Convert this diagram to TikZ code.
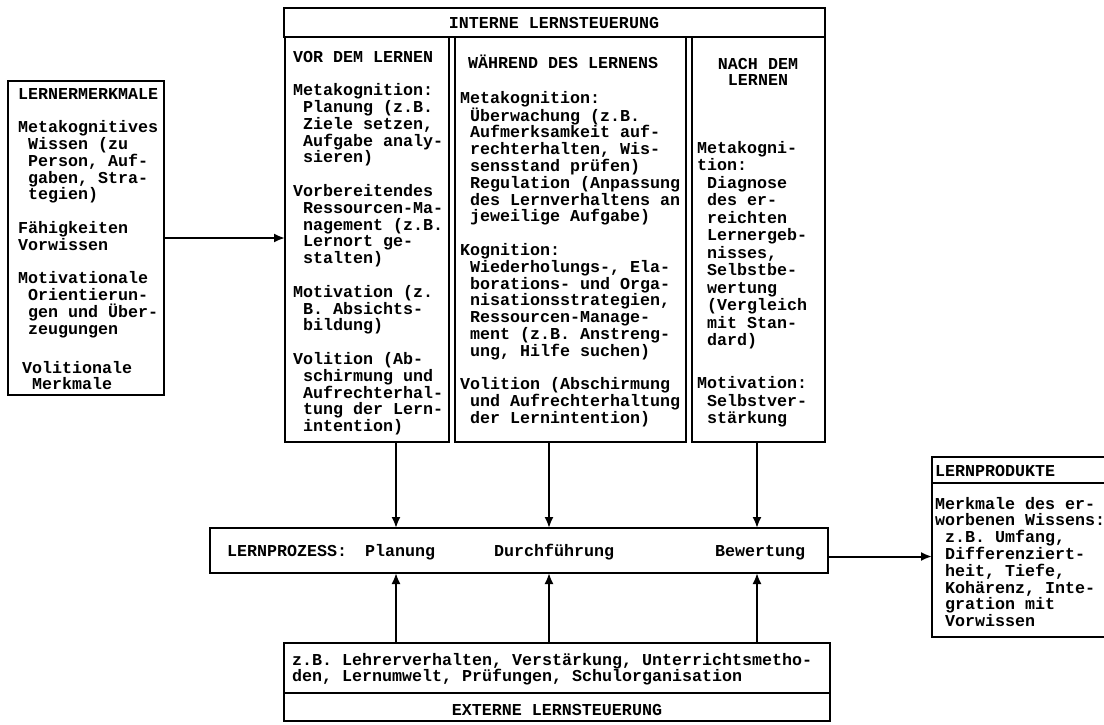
\documentclass[tikz,border=0pt]{standalone}
\usepackage{fontspec}
\setmonofont{Liberation Mono}
\usetikzlibrary{arrows.meta}
% one character of indentation in the typewriter text
\newcommand\ind{\hspace*{10pt}}
% fixed height of the first line, so that north anchors are predictable
\newcommand\fl{\rule{0pt}{15pt}}

\begin{document}
\begin{tikzpicture}[x=1pt,y=-1pt,
  frame/.style={draw=black, line width=2pt, inner sep=0pt, outer sep=0pt},
  tw/.style={font=\ttfamily\bfseries\fontsize{16.67pt}{16.8pt}\selectfont},
  txt/.style={tw, inner sep=0pt, outer sep=0pt, align=left, anchor=north west},
  lab/.style={tw, inner sep=0pt, outer sep=0pt, anchor=base west},
  arr/.style={line width=2pt, -{Latex[length=11pt,width=9pt]}},
]
\useasboundingbox (0,0) rectangle (1104,724);
\fill[white] (0,0) rectangle (1104,724);

% ---------- boxes ----------
\node[frame, minimum width=156pt, minimum height=314pt] (lern) at (86,238) {};
\node[frame, minimum width=541pt, minimum height=29pt] (intern) at (554.5,22.5) {};
\node[frame, minimum width=164pt, minimum height=405pt] (vor) at (367,239.5) {};
\node[frame, minimum width=231pt, minimum height=405pt] (waehrend) at (570.5,239.5) {};
\node[frame, minimum width=133pt, minimum height=405pt] (nach) at (758.5,239.5) {};
\node[frame, minimum width=618pt, minimum height=45pt] (prozess) at (519,550.5) {};
\node[frame, minimum width=546pt, minimum height=78pt] (extern) at (557,682) {};
\node[frame, minimum width=180pt, minimum height=180pt] (produkte) at (1022,547) {};

% separators inside the boxes
\draw[line width=2pt] (extern.west |- 0,693) -- (extern.east |- 0,693);
\draw[line width=2pt] (produkte.west |- 0,483) -- (produkte.east |- 0,483);

% ---------- texts ----------
\node[lab, anchor=base] (tintern) at (554,28) {INTERNE LERNSTEUERUNG};

\node[txt] (tlern) at (18,84) {\fl LERNERMERKMALE\\[16.8pt]
Metakognitives\\
\ind Wissen (zu\\
\ind Person, Auf-\\
\ind gaben, Stra-\\
\ind tegien)\\[16.8pt]
Fähigkeiten\\
Vorwissen\\[16.8pt]
Motivationale\\
\ind Orientierun-\\
\ind gen und Über-\\
\ind zeugungen\\[22pt]
\hspace*{4pt}Volitionale\\
\ind\hspace*{4pt}Merkmale};

\node[txt] (tvor) at (293,47) {\fl VOR DEM LERNEN\\[16.8pt]
Metakognition:\\
\ind Planung (z.B.\\
\ind Ziele setzen,\\
\ind Aufgabe analy-\\
\ind sieren)\\[16.8pt]
Vorbereitendes\\
\ind Ressourcen-Ma-\\
\ind nagement (z.B.\\
\ind Lernort ge-\\
\ind stalten)\\[16.8pt]
Motivation (z.\\
\ind B. Absichts-\\
\ind bildung)\\[16.8pt]
Volition (Ab-\\
\ind schirmung und\\
\ind Aufrechterhal-\\
\ind tung der Lern-\\
\ind intention)};

\node[lab] (hwaehrend) at (468,68) {WÄHREND DES LERNENS};
\node[txt] (twaehrend) at (460,88) {\fl Metakognition:\\
\ind Überwachung (z.B.\\
\ind Aufmerksamkeit auf-\\
\ind rechterhalten, Wis-\\
\ind sensstand prüfen)\\
\ind Regulation (Anpassung\\
\ind des Lernverhaltens an\\
\ind jeweilige Aufgabe)\\[16.8pt]
Kognition:\\
\ind Wiederholungs-, Ela-\\
\ind borations- und Orga-\\
\ind nisationsstrategien,\\
\ind Ressourcen-Manage-\\
\ind ment (z.B. Anstreng-\\
\ind ung, Hilfe suchen)\\[16.8pt]
Volition (Abschirmung\\
\ind und Aufrechterhaltung\\
\ind der Lernintention)};

\node[txt, align=center, anchor=north] (hnach) at (758,54) {\fl NACH DEM\\LERNEN};
\node[txt, font=\ttfamily\bfseries\fontsize{16.67pt}{17.5pt}\selectfont] (tnach) at (697,138) {\fl Metakogni-\\
tion:\\
\ind Diagnose\\
\ind des er-\\
\ind reichten\\
\ind Lernergeb-\\
\ind nisses,\\
\ind Selbstbe-\\
\ind wertung\\
\ind (Vergleich\\
\ind mit Stan-\\
\ind dard)\\[25.5pt]
Motivation:\\
\ind Selbstver-\\
\ind stärkung};

\node[lab] (pl) at (227,556) {LERNPROZESS:};
\node[lab] (p1) at (365,556) {Planung};
\node[lab] (p2) at (494,556) {Durchführung};
\node[lab] (p3) at (715,556) {Bewertung};

\node[txt] (textern) at (292,650) {\fl z.B. Lehrerverhalten, Verstärkung, Unterrichtsmetho-\\
den, Lernumwelt, Prüfungen, Schulorganisation};
\node[lab, anchor=base] (hextern) at (557,715) {EXTERNE LERNSTEUERUNG};

\node[lab] (hprodukte) at (935,476) {LERNPRODUKTE};
\node[txt] (tprodukte) at (935,494) {\fl Merkmale des er-\\
worbenen Wissens:\\
\ind z.B. Umfang,\\
\ind Differenziert-\\
\ind heit, Tiefe,\\
\ind Kohärenz, Inte-\\
\ind gration mit\\
\ind Vorwissen};

% ---------- connectors ----------
\draw[arr] (lern.east) -- (lern.east -| vor.west);
\draw[arr] (vor.south -| 396,0) -- (prozess.north -| 396,0);
\draw[arr] (waehrend.south -| 549,0) -- (prozess.north -| 549,0);
\draw[arr] (nach.south -| 757,0) -- (prozess.north -| 757,0);
\draw[arr] (extern.north -| 396,0) -- (prozess.south -| 396,0);
\draw[arr] (extern.north -| 549,0) -- (prozess.south -| 549,0);
\draw[arr] (extern.north -| 757,0) -- (prozess.south -| 757,0);
\draw[arr] ([yshift=-6pt]prozess.east) -- ([yshift=-6pt]prozess.east -| produkte.west);
\end{tikzpicture}
\end{document}
